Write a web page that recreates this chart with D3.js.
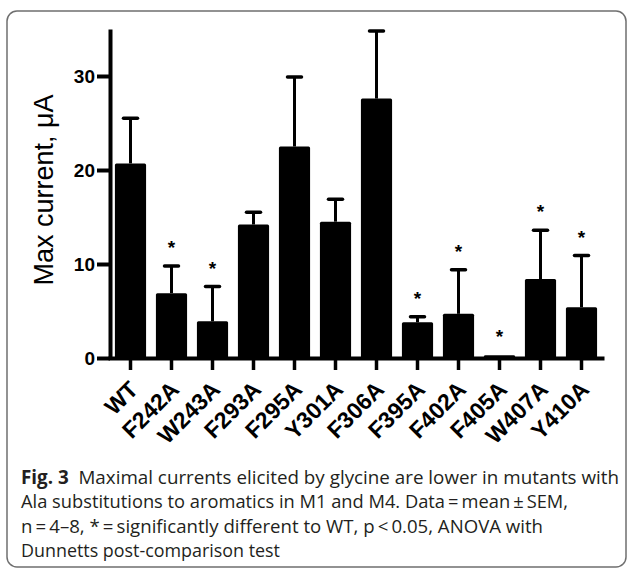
<!DOCTYPE html>
<html>
<head>
<meta charset="utf-8">
<script src="https://cdn.jsdelivr.net/npm/d3@7"></script>
<style>
  body { margin: 0; background: #fff; }
</style>
</head>
<body>
<script>
// data
var mutants = ["WT", "F242A", "W243A", "F293A", "F295A", "Y301A", "F306A", "F395A", "F402A", "F405A", "W407A", "Y410A"];
var meanCurrent = [20.7, 6.9, 3.9, 14.2, 22.5, 14.5, 27.6, 3.8, 4.7, 0.3, 8.4, 5.4];
var semCurrent = [4.8, 2.9, 3.7, 1.3, 7.4, 2.4, 7.2, 0.6, 4.7, 0, 5.2, 5.5];
var significant = [false, true, true, false, false, false, false, true, true, true, true, true];
var yTicks = [0, 10, 20, 30];

var captionLines = [
    { bold: "Fig. 3", text: "  Maximal currents elicited by glycine are lower in mutants with", len: 598 },
    { bold: "", text: "Ala substitutions to aromatics in M1 and M4. Data\u2009=\u2009mean\u2009\u00b1\u2009SEM,", len: 547 },
    { bold: "", text: "n\u2009=\u20094\u20138, *\u2009=\u2009significantly different to WT, p\u2009<\u20090.05, ANOVA with", len: 522 },
    { bold: "", text: "Dunnetts post-comparison test", len: 259 }
];

var rows = mutants.map(function (m, i) {
    return { name: m, mean: meanCurrent[i], sem: semCurrent[i], sig: significant[i] };
});

var w = 627;
var h = 569;

var svg = d3.select("body")
    .append("svg")
    .attr("width", w)
    .attr("height", h);

// frame round the figure
svg.append("rect")
    .attr("x", 7)
    .attr("y", 11)
    .attr("width", 619)
    .attr("height", 556)
    .attr("rx", 10)
    .attr("fill", "none")
    .attr("stroke", "#6f6f6f")
    .attr("stroke-width", 1.5);

var xScale = d3.scaleBand()
    .domain(mutants)
    .range([110, 602])
    .paddingInner(0.24)
    .paddingOuter(0.12);

var yScale = d3.scaleLinear()
    .domain([0, 35])
    .range([358, 29]);

var axisFont = "'Liberation Sans', Arial, Helvetica, sans-serif";

// bars
svg.selectAll("rect.bar")
    .data(rows)
    .enter()
    .append("rect")
    .attr("class", "bar")
    .attr("x", function (d) { return xScale(d.name); })
    .attr("y", function (d) { return yScale(d.mean); })
    .attr("width", xScale.bandwidth())
    .attr("height", function (d) { return yScale(0) - yScale(d.mean); })
    .attr("rx", 1.5)
    .attr("fill", "#000");

// error bars (upper half only)
var withErr = rows.filter(function (d) { return d.sem > 0; });

svg.selectAll("line.stem")
    .data(withErr)
    .enter()
    .append("line")
    .attr("class", "stem")
    .attr("x1", function (d) { return xScale(d.name) + xScale.bandwidth() / 2; })
    .attr("x2", function (d) { return xScale(d.name) + xScale.bandwidth() / 2; })
    .attr("y1", function (d) { return yScale(d.mean); })
    .attr("y2", function (d) { return yScale(d.mean + d.sem); })
    .attr("stroke", "#000")
    .attr("stroke-width", 3);

svg.selectAll("line.cap")
    .data(withErr)
    .enter()
    .append("line")
    .attr("class", "cap")
    .attr("x1", function (d) { return xScale(d.name) + xScale.bandwidth() / 2 - 7; })
    .attr("x2", function (d) { return xScale(d.name) + xScale.bandwidth() / 2 + 7; })
    .attr("y1", function (d) { return yScale(d.mean + d.sem); })
    .attr("y2", function (d) { return yScale(d.mean + d.sem); })
    .attr("stroke", "#000")
    .attr("stroke-width", 3.5)
    .attr("stroke-linecap", "round");

// significance stars
svg.selectAll("text.star")
    .data(rows.filter(function (d) { return d.sig; }))
    .enter()
    .append("text")
    .attr("class", "star")
    .attr("x", function (d) { return xScale(d.name) + xScale.bandwidth() / 2; })
    .attr("y", function (d) { return yScale(d.mean + d.sem) - 12; })
    .attr("text-anchor", "middle")
    .attr("font-family", axisFont)
    .attr("font-weight", "bold")
    .attr("font-size", 19)
    .text("*");

// axes
var yAxis = d3.axisLeft(yScale)
    .tickValues(yTicks)
    .tickSize(13)
    .tickSizeOuter(0)
    .tickPadding(2);

var xAxis = d3.axisBottom(xScale)
    .tickSize(12)
    .tickSizeOuter(0);

var gx = svg.append("g")
    .attr("class", "x axis")
    .attr("transform", "translate(0,358)")
    .call(xAxis);

gx.select(".domain")
    .attr("stroke-width", 4)
    .attr("stroke-linecap", "square");
gx.selectAll(".tick line")
    .attr("stroke-width", 3.5);
gx.selectAll(".tick text")
    .attr("x", 0)
    .attr("y", 0)
    .attr("dy", 0)
    .attr("transform", "translate(9,33) rotate(-45)")
    .attr("text-anchor", "end")
    .attr("font-family", axisFont)
    .attr("font-weight", "bold")
    .attr("font-size", 23)
    .attr("fill", "#000");

var gy = svg.append("g")
    .attr("class", "y axis")
    .attr("transform", "translate(110,0)")
    .call(yAxis);

gy.select(".domain")
    .attr("stroke-width", 4);
gy.selectAll(".tick line")
    .attr("stroke-width", 4);
gy.selectAll(".tick text")
    .attr("font-family", axisFont)
    .attr("font-weight", "bold")
    .attr("font-size", 19)
    .attr("fill", "#000");

svg.append("text")
    .attr("class", "y label")
    .attr("text-anchor", "middle")
    .attr("transform", "translate(53,190) rotate(-90)")
    .attr("font-family", axisFont)
    .attr("font-size", 27)
    .attr("fill", "#000")
    .text("Max current, \u03bcA");

// caption
var cap = svg.selectAll("text.caption")
    .data(captionLines)
    .enter()
    .append("text")
    .attr("class", "caption")
    .attr("x", 21)
    .attr("y", function (d, i) { return 484 + i * 24.3; })
    .attr("font-family", "'Open Sans', 'Noto Sans', sans-serif")
    .attr("font-size", 19)
    .attr("fill", "#231f20")
    .attr("textLength", function (d) { return d.len; })
    .attr("lengthAdjust", "spacingAndGlyphs");

cap.filter(function (d) { return d.bold !== ""; })
    .append("tspan")
    .attr("font-weight", "bold")
    .text(function (d) { return d.bold; });

cap.append("tspan")
    .attr("xml:space", "preserve")
    .style("white-space", "pre")
    .text(function (d) { return d.text; });
</script>
</body>
</html>
